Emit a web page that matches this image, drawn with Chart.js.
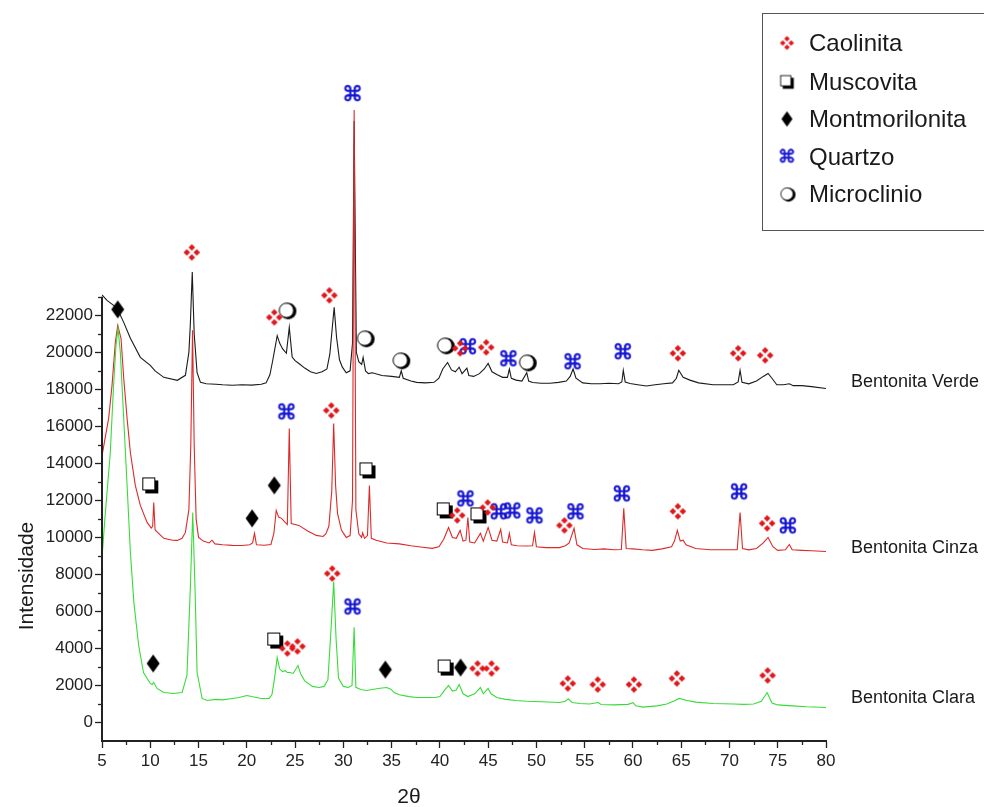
<!DOCTYPE html>
<html lang="pt">
<head>
  <meta charset="UTF-8">
  <title>DRX Bentonitas</title>
  <script src="https://cdn.jsdelivr.net/npm/chart.js"></script>
  <style>
    body { margin: 0; background: #fff; }
    #wrap { width: 984px; height: 807px; }
  </style>
</head>
<body>
<div id="wrap"><canvas id="chartDRX" width="984" height="807"></canvas></div>
<script>
  // Bentonita Verde (preta)
  const verdeX = [5.0, 5.52, 6.2, 6.63, 7.25, 7.94, 8.97, 10.0, 10.5, 11.4, 12.8, 13.64, 14.0, 14.15, 14.35, 14.55, 14.85, 15.2, 15.8, 16.8, 17.5, 18.5, 19.5, 20.5, 21.5, 22.0, 22.4, 22.7, 23.15, 23.4, 23.7, 24.1, 24.4, 24.7, 25.0, 25.4, 26.0, 26.6, 27.2, 27.8, 28.3, 28.6, 29.05, 29.3, 29.6, 29.9, 30.3, 30.7, 30.95, 31.12, 31.35, 31.6, 31.9, 32.05, 32.3, 32.6, 33.0, 34.0, 35.0, 35.8, 36.0, 36.2, 37.0, 37.6, 38.5, 39.4, 39.9, 40.3, 40.8, 41.2, 41.6, 42.0, 42.3, 42.8, 43.0, 43.5, 44.1, 44.6, 45.0, 45.4, 45.9, 46.5, 47.0, 47.2, 47.4, 47.9, 48.5, 49.0, 49.2, 49.6, 50.5, 51.4, 52.3, 53.1, 53.5, 53.8, 54.1, 54.8, 55.7, 56.6, 57.5, 58.5, 58.85, 59.0, 59.2, 59.7, 60.5, 61.4, 62.3, 63.2, 64.1, 64.5, 64.75, 65.2, 65.9, 66.8, 68.3, 69.5, 70.4, 70.9, 71.1, 71.3, 72.0, 72.8, 73.5, 74.0, 74.4, 74.9, 75.6, 76.2, 76.6, 77.5, 78.5, 80.0];
  const verdeY = [23100, 22810, 22540, 22300, 21620, 20760, 19730, 19300, 19000, 18650, 18490, 18760, 20000, 21500, 24340, 21000, 18900, 18380, 18300, 18280, 18250, 18220, 18250, 18230, 18280, 18350, 18800, 19600, 20900, 20500, 20200, 19950, 21350, 19750, 19550, 19400, 19150, 18950, 18860, 18950, 19100, 19900, 22430, 20800, 19600, 19200, 18900, 19000, 20500, 32500, 20000, 19500, 19350, 19730, 19000, 18850, 18900, 18750, 18700, 18650, 19000, 18600, 18450, 18380, 18350, 18380, 18600, 19100, 19450, 19050, 18950, 19200, 18850, 19150, 18750, 18700, 18850, 19100, 19400, 18950, 18800, 18650, 18650, 19100, 18600, 18500, 18450, 18900, 18450, 18370, 18330, 18330, 18380, 18450, 18700, 19100, 18600, 18350, 18300, 18300, 18330, 18300, 18400, 19030, 18400, 18320, 18250, 18180, 18250, 18300, 18350, 18600, 19030, 18650, 18500, 18350, 18250, 18250, 18250, 18400, 19030, 18380, 18300, 18450, 18700, 18860, 18600, 18250, 18250, 18300, 18200, 18200, 18150, 18050];

  // Bentonita Cinza (vermelha)
  const cinzaX = [5.0, 5.3, 5.69, 6.04, 6.38, 6.63, 6.97, 7.25, 7.6, 7.94, 8.45, 8.97, 9.67, 10.1, 10.25, 10.36, 10.5, 11.4, 12.3, 12.8, 13.3, 13.64, 14.0, 14.2, 14.38, 14.55, 14.75, 15.0, 15.5, 16.1, 16.4, 16.7, 17.5, 18.5, 19.5, 20.3, 20.6, 20.8, 21.0, 21.8, 22.5, 22.8, 23.05, 23.3, 23.6, 24.0, 24.2, 24.4, 24.6, 25.0, 25.4, 26.3, 27.2, 27.9, 28.2, 28.5, 28.8, 29.0, 29.2, 29.4, 29.8, 30.3, 30.7, 30.95, 31.12, 31.3, 31.6, 31.9, 32.0, 32.2, 32.5, 32.7, 32.9, 33.4, 34.5, 35.8, 37.0, 38.0, 39.2, 39.9, 40.4, 40.9, 41.3, 41.7, 42.1, 42.4, 42.7, 42.9, 43.1, 43.6, 44.2, 44.5, 45.0, 45.4, 45.9, 46.3, 46.5, 47.0, 47.2, 47.4, 48.0, 49.0, 49.6, 49.8, 50.0, 51.0, 52.4, 53.0, 53.4, 53.9, 54.2, 54.8, 56.0, 57.0, 58.0, 58.8, 59.05, 59.3, 60.0, 61.0, 62.0, 63.0, 64.0, 64.3, 64.6, 64.9, 65.2, 65.5, 66.5, 68.0, 69.5, 70.8, 71.1, 71.35, 72.0, 72.8, 73.5, 74.0, 74.5, 75.0, 75.8, 76.2, 76.5, 77.5, 78.5, 80.0];
  const cinzaY = [14400, 15300, 16430, 18220, 20540, 21460, 20760, 18600, 16430, 14590, 12810, 11730, 10810, 10500, 10600, 11890, 10400, 9950, 9850, 9840, 9950, 10270, 11500, 15000, 21200, 15000, 11000, 10000, 9800, 9700, 9850, 9650, 9600, 9570, 9560, 9600, 9700, 10220, 9600, 9580, 9620, 10200, 11460, 11100, 11030, 10800, 10700, 15890, 10750, 10700, 10650, 10350, 10110, 10050, 10200, 10600, 12500, 16160, 12800, 11300, 10400, 10000, 10100, 12000, 33100, 11500, 10200, 10000, 10250, 9950, 10100, 12810, 9950, 9850, 9700, 9650, 9550, 9480, 9410, 9500, 9900, 10540, 10000, 9950, 10380, 9800, 9850, 11080, 9750, 9700, 10220, 9800, 10540, 9850, 9800, 10430, 9750, 9700, 10220, 9600, 9550, 9540, 9550, 10270, 9500, 9450, 9450, 9550, 9700, 10490, 9600, 9400, 9350, 9380, 9330, 9350, 11570, 9400, 9380, 9330, 9300, 9380, 9500, 9800, 10380, 9800, 9850, 9600, 9400, 9330, 9330, 9330, 11350, 9400, 9330, 9400, 9700, 10000, 9500, 9300, 9330, 9620, 9330, 9300, 9280, 9240];

  // Bentonita Clara (verde)
  const claraX = [5.0, 5.3, 5.86, 6.2, 6.45, 6.66, 6.9, 7.25, 7.6, 7.94, 8.3, 8.8, 9.3, 10.0, 10.2, 10.36, 10.7, 11.4, 12.4, 13.3, 13.8, 14.16, 14.4, 14.65, 14.85, 15.37, 15.9, 16.8, 17.5, 18.5, 19.2, 20.0, 20.5, 21.0, 21.5, 22.3, 22.6, 22.85, 23.15, 23.4, 23.7, 24.0, 24.2, 24.5, 24.8, 25.1, 25.3, 25.6, 26.0, 26.8, 27.5, 28.0, 28.4, 28.7, 29.0, 29.25, 29.5, 30.0, 30.5, 30.9, 31.12, 31.3, 31.8, 32.4, 33.0, 33.8, 34.5, 34.9, 35.3, 35.8, 36.8, 37.6, 38.8, 39.5, 40.0, 40.5, 40.9, 41.3, 41.7, 42.0, 42.4, 42.9, 43.6, 44.2, 44.5, 45.0, 45.3, 45.9, 46.8, 47.9, 49.0, 50.5, 52.4, 53.0, 53.3, 53.7, 54.5, 55.5, 56.4, 56.7, 58.0, 59.5, 60.0, 60.3, 61.0, 62.5, 63.5, 64.2, 64.8, 65.5, 66.5, 68.3, 70.4, 71.5, 72.5, 73.3, 73.9, 74.4, 75.0, 76.5, 78.0, 80.0];
  const claraY = [8860, 11030, 14590, 18220, 20380, 21300, 20000, 16430, 12810, 9190, 6490, 4160, 2700, 2110, 2050, 2160, 1840, 1620, 1570, 1620, 2540, 7400, 11350, 7000, 2700, 1300, 1190, 1250, 1220, 1300, 1350, 1460, 1400, 1350, 1300, 1300, 1500, 2300, 3510, 2900, 2750, 2800, 2700, 2700, 2650, 2900, 3080, 2600, 2250, 1950, 1890, 1950, 2300, 4800, 7600, 4500, 2400, 1950, 1890, 2000, 5140, 1900, 1780, 1730, 1780, 1850, 1890, 1800, 1600, 1500, 1400, 1350, 1350, 1350, 1400, 1750, 2000, 1700, 1750, 2050, 1550, 1400, 1550, 1890, 1550, 1840, 1550, 1350, 1250, 1190, 1150, 1120, 1080, 1150, 1280, 1080, 1030, 1000, 1080, 970, 950, 980, 1070, 900, 830, 900, 1000, 1150, 1300, 1200, 1100, 1030, 1000, 980, 1000, 1150, 1620, 1050, 950, 900, 850, 810];

  // fases identificadas (posição do símbolo)
  const caolinitaX = [14.3, 22.85, 28.55, 42.1, 44.8, 64.65, 70.9, 73.7, 28.75, 41.8, 44.95, 52.9, 64.65, 73.9, 24.2, 25.25, 28.85, 43.9, 45.35, 53.25, 56.35, 60.1, 64.55, 73.95];
  const caolinitaY = [25400, 21890, 23080, 20220, 20270, 19950, 19950, 19840, 16860, 11190, 11620, 10650, 11410, 10760, 4000, 4110, 8050, 2920, 2920, 2110, 2050, 2050, 2380, 2540];
  const muscovitaX = [10.0, 32.5, 40.5, 44.0, 22.95, 40.6];
  const muscovitaY = [12810, 13620, 11460, 11190, 4430, 2970];
  const montmorX = [6.63, 20.55, 22.85, 10.3, 34.35, 42.15];
  const montmorY = [22320, 11030, 12810, 3190, 2860, 2970];
  const quartzoX = [30.95, 42.9, 47.1, 53.75, 58.95, 24.1, 42.65, 46.1, 47.5, 49.8, 54.05, 58.85, 71.0, 76.05, 30.95];
  const quartzoY = [33900, 20220, 19570, 19410, 19950, 16700, 12000, 11300, 11350, 11080, 11300, 12270, 12380, 10540, 6160];
  const microX = [24.1, 32.2, 35.9, 40.5, 49.0];
  const microY = [22270, 20760, 19570, 20380, 19460];

  const xTicks = [5, 10, 15, 20, 25, 30, 35, 40, 45, 50, 55, 60, 65, 70, 75, 80];
  const yTicks = [0, 2000, 4000, 6000, 8000, 10000, 12000, 14000, 16000, 18000, 20000, 22000];

  const fases = ['Caolinita', 'Muscovita', 'Montmorilonita', 'Quartzo', 'Microclinio'];
  const amostras = ['Bentonita Verde', 'Bentonita Cinza', 'Bentonita Clara'];
  const cores = ['#1a1a1a', '#dc2a2a', '#38dc38'];

  function pts(xs, ys) {
    return xs.map((x, i) => ({ x: x, y: ys[i] }));
  }

  // desenha os simbolos das fases num canvas pequeno
  function makeIcon(kind, s) {
    const c = document.createElement('canvas');
    c.width = c.height = Math.ceil(26 * s);
    const g = c.getContext('2d');
    g.translate(c.width / 2, c.height / 2);
    g.scale(s, s);
    if (kind === 'Caolinita') {
      g.fillStyle = '#e0161b';
      [[0, -5], [5, 0], [0, 5], [-5, 0]].forEach(([dx, dy]) => {
        g.beginPath();
        g.moveTo(dx, dy - 3.3); g.lineTo(dx + 3.3, dy);
        g.lineTo(dx, dy + 3.3); g.lineTo(dx - 3.3, dy);
        g.closePath(); g.fill();
      });
    } else if (kind === 'Muscovita') {
      g.fillStyle = '#000';
      g.fillRect(-5, -5, 13, 13);
      g.fillStyle = '#fff';
      g.fillRect(-7.5, -7.5, 12, 12);
      g.strokeStyle = '#000'; g.lineWidth = 1;
      g.strokeRect(-7.5, -7.5, 12, 12);
    } else if (kind === 'Montmorilonita') {
      g.fillStyle = '#000';
      g.beginPath();
      g.moveTo(0, -9); g.lineTo(6.5, 0); g.lineTo(0, 9); g.lineTo(-6.5, 0);
      g.closePath(); g.fill();
    } else if (kind === 'Quartzo') {
      g.fillStyle = '#1212d2';
      g.strokeStyle = '#1212d2';
      g.lineWidth = 0.7;
      g.font = '21px "DejaVu Sans"';
      g.textAlign = 'center';
      g.textBaseline = 'middle';
      g.fillText('\u2318', 0, 1);
      g.strokeText('\u2318', 0, 1);
    } else {
      g.fillStyle = '#000';
      g.beginPath(); g.arc(1.8, 0.8, 8.2, 0, Math.PI * 2); g.fill();
      g.fillStyle = '#fff';
      g.beginPath(); g.arc(0, 0, 7.2, 0, Math.PI * 2); g.fill();
      g.strokeStyle = '#000'; g.lineWidth = 1;
      g.stroke();
    }
    return c;
  }

  const icons = {};
  const iconsLeg = {};
  fases.forEach(f => { icons[f] = makeIcon(f, 1); iconsLeg[f] = makeIcon(f, 0.85); });

  function lineSet(label, xs, ys, cor, ord) {
    return {
      label: label, data: pts(xs, ys), borderColor: cor, borderWidth: 1.1,
      pointRadius: 0, tension: 0, fill: false, order: ord
    };
  }
  function markSet(label, xs, ys) {
    return {
      type: 'scatter', label: label, data: pts(xs, ys), pointStyle: icons[label],
      pointRadius: 6, showLine: false, order: 0
    };
  }

  // eixos, rótulos e legenda
  const extras = {
    id: 'extras',
    afterDraw(chart) {
      const ctx = chart.ctx;
      const sx = chart.scales.x, sy = chart.scales.y;
      const a = chart.chartArea;
      ctx.save();
      ctx.strokeStyle = '#222';
      ctx.lineWidth = 2;
      ctx.beginPath();
      ctx.moveTo(a.left, a.bottom + 1);
      ctx.lineTo(a.left, sy.getPixelForValue(23000));
      ctx.stroke();
      ctx.lineWidth = 1.3;
      for (let v = 1000; v <= 23000; v += 2000) {
        const py = Math.round(sy.getPixelForValue(v)) + 0.5;
        ctx.beginPath(); ctx.moveTo(a.left - 4, py); ctx.lineTo(a.left, py); ctx.stroke();
      }
      for (let v = 7.5; v < 80; v += 5) {
        const px = Math.round(sx.getPixelForValue(v)) + 0.5;
        ctx.beginPath(); ctx.moveTo(px, a.bottom); ctx.lineTo(px, a.bottom + 4); ctx.stroke();
      }

      ctx.fillStyle = '#1a1a1a';
      ctx.textBaseline = 'middle';
      ctx.font = '18px "Liberation Sans", Arial, sans-serif';
      ctx.textAlign = 'left';
      ctx.fillText(amostras[0], 851, 382);
      ctx.fillText(amostras[1], 851, 548);
      ctx.fillText(amostras[2], 851, 698);

      ctx.font = '21px "Liberation Sans", Arial, sans-serif';
      ctx.textAlign = 'center';
      ctx.fillText('2\u03b8', 409, 797);
      ctx.save();
      ctx.translate(27, 576);
      ctx.rotate(-Math.PI / 2);
      ctx.fillText('Intensidade', 0, 0);
      ctx.restore();

      // legenda
      ctx.strokeStyle = '#555';
      ctx.lineWidth = 1;
      ctx.strokeRect(762.5, 13.5, 240, 217);
      const ys = [43, 82, 119, 157, 194];
      ctx.font = '24px "Liberation Sans", Arial, sans-serif';
      ctx.textAlign = 'left';
      fases.forEach((f, i) => {
        const ic = iconsLeg[f];
        ctx.drawImage(ic, 787 - ic.width / 2, ys[i] - ic.height / 2);
        ctx.fillText(f, 809, ys[i] + 1);
      });
      ctx.restore();
    }
  };

  new Chart(document.getElementById('chartDRX'), {
    type: 'line',
    data: {
      datasets: [
        markSet('Caolinita', caolinitaX, caolinitaY),
        markSet('Muscovita', muscovitaX, muscovitaY),
        markSet('Montmorilonita', montmorX, montmorY),
        markSet('Quartzo', quartzoX, quartzoY),
        markSet('Microclinio', microX, microY),
        lineSet(amostras[2], claraX, claraY, cores[2], 1),
        lineSet(amostras[1], cinzaX, cinzaY, cores[1], 2),
        lineSet(amostras[0], verdeX, verdeY, cores[0], 3)
      ]
    },
    options: {
      responsive: false,
      animation: false,
      layout: { padding: { top: 84, right: 158, left: 0, bottom: 0 } },
      plugins: { legend: { display: false }, tooltip: { enabled: false } },
      scales: {
        x: {
          type: 'linear', min: 5, max: 80,
          afterBuildTicks: s => { s.ticks = xTicks.map(v => ({ value: v })); },
          afterFit: s => { s.height = 66; },
          border: { color: '#222', width: 2 },
          grid: { drawOnChartArea: false, tickLength: 7, tickColor: '#222', tickWidth: 1.3 },
          ticks: { color: '#222', padding: 3, maxRotation: 0, callback: v => String(v), font: { size: 17, family: '"Liberation Sans", Arial, sans-serif' } }
        },
        y: {
          type: 'linear', min: -1000, max: 34500,
          afterBuildTicks: s => { s.ticks = yTicks.map(v => ({ value: v })); },
          afterFit: s => { s.width = 102; },
          border: { display: false },
          grid: { drawOnChartArea: false, tickLength: 7, tickColor: '#222', tickWidth: 1.3 },
          ticks: { color: '#222', padding: 2, callback: v => String(v), font: { size: 17, family: '"Liberation Sans", Arial, sans-serif' } }
        }
      }
    },
    plugins: [extras]
  });
</script>
</body>
</html>
